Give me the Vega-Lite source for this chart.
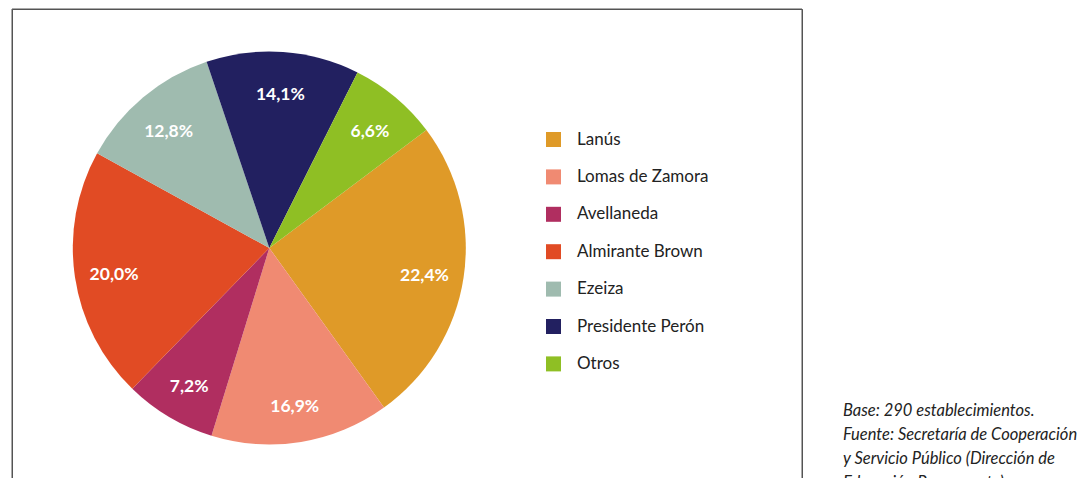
{
  "$schema": "https://vega.github.io/schema/vega-lite/v6.json",
  "width": 790,
  "height": 470,
  "autosize": {"type": "none"},
  "padding": {"left": 12, "top": 9, "right": 279, "bottom": -1},
  "background": "white",
  "config": {
    "view": {"stroke": "#555555", "strokeWidth": 1, "fill": "white"},
    "font": "Lato"
  },
  "title": {
    "text": ["Base: 290 establecimientos.", "Fuente: Secretaría de Cooperación", "y Servicio Público (Dirección de", "Educación Permanente)."],
    "orient": "top",
    "anchor": "end",
    "frame": "group",
    "align": "left",
    "baseline": "top",
    "offset": 0,
    "dx": 41,
    "dy": 483,
    "font": "Lato",
    "fontSize": 16.5,
    "fontStyle": "italic",
    "fontWeight": "normal",
    "lineHeight": 24,
    "color": "#222222"
  },
  "data": {
    "values": [
      {"municipio": "Lanús", "angulo_pct": 25.33, "etiqueta": "22,4%", "orden": 1},
      {"municipio": "Lomas de Zamora", "angulo_pct": 14.67, "etiqueta": "16,9%", "orden": 2},
      {"municipio": "Avellaneda", "angulo_pct": 7.53, "etiqueta": "7,2%", "orden": 3},
      {"municipio": "Almirante Brown", "angulo_pct": 20.72, "etiqueta": "20,0%", "orden": 4},
      {"municipio": "Ezeiza", "angulo_pct": 11.83, "etiqueta": "12,8%", "orden": 5},
      {"municipio": "Presidente Perón", "angulo_pct": 12.58, "etiqueta": "14,1%", "orden": 6},
      {"municipio": "Otros", "angulo_pct": 7.34, "etiqueta": "6,6%", "orden": 7}
    ]
  },
  "layer": [
    {
      "data": {"values": [{"marco": "borde"}]},
      "mark": {"type": "rect", "fill": null, "stroke": "#555555", "strokeWidth": 1},
      "encoding": {
        "x": {"value": 0},
        "x2": {"value": "width"},
        "y": {"value": 0},
        "y2": {"value": "height"}
      }
    },
    {
      "mark": {"type": "arc", "outerRadius": 196.5, "x": 257.3, "y": 239, "strokeWidth": 0},
      "encoding": {
        "theta": {"field": "angulo_pct", "type": "quantitative", "stack": true, "scale": {"range": [0.9268, 7.21]}},
        "order": {"field": "orden", "type": "quantitative"},
        "color": {
          "field": "municipio",
          "type": "nominal",
          "scale": {
            "domain": ["Lanús", "Lomas de Zamora", "Avellaneda", "Almirante Brown", "Ezeiza", "Presidente Perón", "Otros"],
            "range": ["#DF9A28", "#F08A72", "#B02E60", "#E14B24", "#9FBBAF", "#222060", "#8FBF24"]
          },
          "legend": {
            "orient": "none",
            "legendX": 533,
            "legendY": 122,
            "padding": 0,
            "title": null,
            "symbolType": "square",
            "symbolSize": 225,
            "symbolStrokeWidth": 0,
            "labelFont": "Lato",
            "labelFontSize": 17,
            "labelColor": "#222222",
            "labelOffset": 15,
            "rowPadding": 19.4
          }
        }
      }
    },
    {
      "mark": {"type": "text", "radius": 157, "x": 257.3, "y": 239, "dy": 4, "color": "white", "fontWeight": "bold", "fontSize": 17.5, "font": "Lato"},
      "encoding": {
        "theta": {"field": "angulo_pct", "type": "quantitative", "stack": true, "scale": {"range": [0.9268, 7.21]}},
        "order": {"field": "orden", "type": "quantitative"},
        "text": {"field": "etiqueta", "type": "nominal"}
      }
    }
  ]
}
